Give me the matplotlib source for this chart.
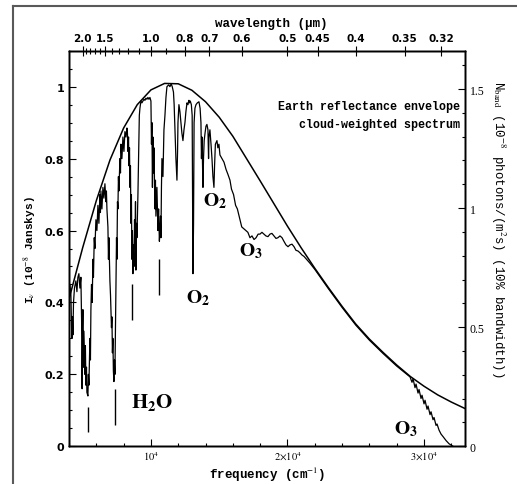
import matplotlib
matplotlib.use('Agg')
import matplotlib.pyplot as plt
from matplotlib.lines import Line2D
from matplotlib.ticker import MultipleLocator, FixedLocator

plt.rcParams['mathtext.fontset'] = 'stix'

# Earth reflectance envelope (frequency in cm^-1, I_nu in 1e-8 Jy)
env_nu = [4000, 5000, 6000, 7000, 8000, 9000, 10000, 11000, 12000, 13000,
          14000, 15000, 16000, 17000, 18000, 19000, 20000, 21000, 22000, 23000,
          24000, 25000, 26000, 27000, 28000, 29000, 30000, 31000, 32000, 33000]
env_val = [0.409, 0.552, 0.683, 0.796, 0.885, 0.950, 0.991, 1.009, 1.008, 0.990,
           0.958, 0.915, 0.862, 0.800, 0.738, 0.675, 0.612, 0.552, 0.495, 0.441,
           0.389, 0.340, 0.298, 0.261, 0.226, 0.194, 0.167, 0.143, 0.123, 0.105]

# cloud-weighted spectrum
spec_nu = [4000, 4070, 4140, 4180, 4212, 4250, 4286, 4330, 4400, 4505,
           4580, 4650, 4725, 4798, 4870, 4945, 4960, 4990, 5018, 5060,
           5092, 5165, 5200, 5238, 5280, 5311, 5385, 5420, 5458, 5531,
           5570, 5604, 5650, 5700, 5751, 5790, 5850, 5897, 5971, 6044,
           6117, 6190, 6264, 6300, 6337, 6410, 6484, 6557, 6630, 6703,
           6740, 6777, 6850, 6890, 6923, 6996, 7040, 7070, 7110, 7143,
           7180, 7216, 7250, 7290, 7330, 7363, 7400, 7436, 7480, 7509,
           7550, 7582, 7620, 7656, 7729, 7770, 7802, 7875, 7949, 8022,
           8095, 8168, 8242, 8280, 8315, 8360, 8388, 8430, 8462, 8500,
           8535, 8570, 8608, 8640, 8681, 8720, 8755, 8800, 8828, 8870,
           8901, 8940, 8974, 9048, 9100, 9150, 9194, 9267, 9341, 9414,
           9487, 9560, 9634, 9707, 9780, 9853, 9927, 10000, 10040, 10073,
           10110, 10146, 10190, 10220, 10293, 10330, 10366, 10440, 10512, 10560,
           10620, 10659, 10700, 10733, 10770, 10806, 10880, 10953, 11026, 11100,
           11172, 11300, 11392, 11480, 11560, 11650, 11700, 11758, 11830, 11905,
           11950, 11980, 12050, 12125, 12200, 12270, 12344, 12420, 12491, 12560,
           12640, 12711, 12780, 12830, 12880, 12960, 13020, 13077, 13120, 13160,
           13223, 13300, 13400, 13516, 13600, 13663, 13700, 13740, 13810, 13850,
           13900, 13960, 14030, 14100, 14176, 14220, 14250, 14320, 14400, 14470,
           14540, 14615, 14660, 14720, 14835, 14900, 14980, 15055, 15200, 15350,
           15500, 15650, 15788, 15900, 16050, 16200, 16330, 16520, 16650, 16800,
           16960, 17100, 17253, 17400, 17550, 17700, 17850, 17985, 18130, 18280,
           18420, 18570, 18718, 18860, 19010, 19160, 19300, 19451, 19600, 19740,
           19890, 20040, 20183, 20330, 20480, 20620, 20770, 20916, 21060, 21210,
           21350, 21500, 21648, 22000, 23000, 24000, 25000, 26000, 27000, 28000,
           28974, 29120, 29194, 29340, 29414, 29560, 29634, 29780, 29853, 30000,
           30073, 30220, 30293, 30440, 30513, 30659, 30733, 30879, 30952, 31099,
           31245, 31392, 31612, 31832, 32125]
spec_val = [0.41, 0.45, 0.42, 0.34, 0.30, 0.36, 0.31, 0.40, 0.44, 0.46,
            0.43, 0.47, 0.48, 0.44, 0.47, 0.30, 0.16, 0.33, 0.38, 0.22,
            0.32, 0.20, 0.28, 0.17, 0.22, 0.15, 0.14, 0.20, 0.17, 0.30,
            0.24, 0.38, 0.45, 0.40, 0.52, 0.47, 0.58, 0.55, 0.63, 0.60,
            0.67, 0.62, 0.70, 0.65, 0.71, 0.66, 0.72, 0.69, 0.73, 0.68,
            0.71, 0.66, 0.61, 0.52, 0.58, 0.46, 0.42, 0.38, 0.33, 0.36,
            0.26, 0.30, 0.21, 0.18, 0.24, 0.20, 0.32, 0.45, 0.58, 0.52,
            0.68, 0.66, 0.75, 0.71, 0.80, 0.76, 0.84, 0.80, 0.86, 0.82,
            0.875, 0.86, 0.885, 0.87, 0.82, 0.86, 0.78, 0.83, 0.72, 0.78,
            0.62, 0.70, 0.52, 0.60, 0.48, 0.56, 0.50, 0.63, 0.55, 0.68,
            0.49, 0.62, 0.58, 0.70, 0.82, 0.92, 0.94, 0.96, 0.955, 0.96,
            0.965, 0.962, 0.968, 0.965, 0.97, 0.965, 0.97, 0.96, 0.84, 0.90,
            0.72, 0.86, 0.76, 0.83, 0.66, 0.74, 0.64, 0.72, 0.60, 0.66,
            0.57, 0.60, 0.64, 0.58, 0.72, 0.80, 0.75, 0.88, 0.92, 0.97,
            1.0, 1.005, 1.0, 1.008, 1.0, 0.985, 0.95, 0.88, 0.80, 0.74,
            0.82, 0.90, 0.95, 0.93, 0.90, 0.87, 0.85, 0.88, 0.90, 0.93,
            0.955, 0.95, 0.962, 0.955, 0.96, 0.95, 0.92, 0.48, 0.62, 0.90,
            0.94, 0.95, 0.955, 0.958, 0.94, 0.90, 0.80, 0.86, 0.72, 0.80,
            0.85, 0.87, 0.89, 0.895, 0.88, 0.80, 0.86, 0.88, 0.84, 0.80,
            0.75, 0.72, 0.78, 0.84, 0.85, 0.83, 0.84, 0.81, 0.80, 0.79,
            0.77, 0.755, 0.74, 0.715, 0.70, 0.67, 0.66, 0.63, 0.61, 0.605,
            0.60, 0.595, 0.58, 0.585, 0.575, 0.58, 0.59, 0.59, 0.595, 0.59,
            0.585, 0.583, 0.59, 0.592, 0.585, 0.578, 0.58, 0.585, 0.58, 0.57,
            0.56, 0.555, 0.56, 0.562, 0.555, 0.545, 0.543, 0.538, 0.532, 0.528,
            0.522, 0.516, 0.509, 0.492, 0.438, 0.386, 0.337, 0.295, 0.258, 0.223,
            0.193, 0.178, 0.188, 0.163, 0.173, 0.148, 0.158, 0.133, 0.142, 0.118,
            0.128, 0.103, 0.112, 0.088, 0.096, 0.074, 0.080, 0.058, 0.062, 0.045,
            0.034, 0.027, 0.016, 0.007, 0.0]

# broken tips of the deepest absorption lines
dash_nu = [5385, 7363, 8640, 10620]
dash_top = [0.11, 0.16, 0.45, 0.52]
dash_bot = [0.04, 0.06, 0.35, 0.42]

wl_major = [2.0, 1.5, 1.0, 0.8, 0.7, 0.6, 0.5, 0.45, 0.4, 0.35, 0.32]
wl_labels = ['2.0', '1.5', '1.0', '0.8', '0.7', '0.6', '0.5', '0.45', '0.4', '0.35', '0.32']
wl_minor = [1.9, 1.8, 1.7, 1.6, 1.4, 1.3, 1.2, 1.1, 0.9]

freq_ticks = [10000, 20000, 30000]
freq_labels = [r'$10^4$', r'$2{\times}10^4$', r'$3{\times}10^4$']

left_ticks = [0, 0.2, 0.4, 0.6, 0.8, 1.0]
left_labels = ['0', '0.2', '0.4', '0.6', '0.8', '1']
right_ticks = [0, 0.5, 1.0, 1.5]
right_labels = ['0', '0.5', '1', '1.5']

mono = 'Liberation Mono'

fig = plt.figure(figsize=(5.17, 4.85), dpi=100)
ax = fig.add_axes([69 / 517, 1 - 447.3 / 485, 396 / 517, 395.6 / 485])

ax.plot(env_nu, env_val, color='black', lw=1.1)
ax.plot(spec_nu, spec_val, color='black', lw=0.9)
ax.vlines(dash_nu, dash_bot, dash_top, color='black', lw=1.0)

ax.set_xlim(4000, 33000)
ax.set_ylim(0, 1.1)
ax.xaxis.set_major_locator(FixedLocator(freq_ticks))
ax.set_xticklabels(freq_labels)
ax.xaxis.set_minor_locator(MultipleLocator(2000))
ax.yaxis.set_major_locator(FixedLocator(left_ticks))
ax.set_yticklabels(left_labels)
ax.yaxis.set_minor_locator(MultipleLocator(0.05))
ax.tick_params(which='both', direction='in', top=False, right=False, width=0.8)
ax.tick_params(which='major', length=5, labelsize=8)
ax.tick_params(which='minor', length=2.5)
ax.tick_params(axis='x', which='major', labelsize=7.5, pad=2)
for lab in ax.get_yticklabels():
    lab.set_fontweight('bold')
    lab.set_family('DejaVu Sans')

# right axis: N_band
ax2 = ax.twinx()
ax2.set_ylim(0, 1.661)
ax2.yaxis.set_major_locator(FixedLocator(right_ticks))
ax2.set_yticklabels(right_labels)
ax2.yaxis.set_minor_locator(MultipleLocator(0.1))
ax2.tick_params(which='both', direction='in', width=0.8)
ax2.tick_params(which='major', length=5, labelsize=8.5)
ax2.tick_params(which='minor', length=2.5)
for lab in ax2.get_yticklabels():
    lab.set_family('Liberation Serif')

# top axis: wavelength
ax3 = ax.twiny()
ax3.set_xlim(4000, 33000)
ax3.xaxis.set_major_locator(FixedLocator([1e4 / w for w in wl_major]))
ax3.set_xticklabels(wl_labels)
ax3.xaxis.set_minor_locator(FixedLocator([1e4 / w for w in wl_minor]))
ax3.tick_params(which='both', direction='inout', width=0.8)
ax3.tick_params(which='major', length=7, labelsize=7.5, pad=2)
ax3.tick_params(which='minor', length=5)
for lab in ax3.get_xticklabels():
    lab.set_fontweight('bold')
    lab.set_family('DejaVu Sans')

for a in (ax, ax2, ax3):
    for s in a.spines.values():
        s.set_linewidth(1.0)

# labels
fig.text(271 / 517, 1 - 24 / 485, 'wavelength (μm)', ha='center', va='center',
         family=mono, fontweight='bold', fontsize=9)
fig.text(267 / 517, 1 - 475 / 485, r'frequency (cm$^{-1}$)', ha='center', va='center',
         family=mono, fontweight='bold', fontsize=9)
fig.text(30 / 517, 1 - 250 / 485, r'I$_\nu$ (10$^{-8}$ Janskys)', ha='center', va='center',
         rotation=90, family=mono, fontweight='bold', fontsize=8)
fig.text(498 / 517, 1 - 229 / 485,
         r'N$_{\rm band}$ (10$^{-8}$ photons/(m$^2$s) (10% bandwidth))',
         ha='center', va='center', rotation=270, family=mono, fontsize=9)

ax.text(0.987, 0.86, 'Earth reflectance envelope', transform=ax.transAxes,
        ha='right', va='center', family=mono, fontweight='bold', fontsize=8.4)
ax.text(0.987, 0.815, 'cloud-weighted spectrum', transform=ax.transAxes,
        ha='right', va='center', family=mono, fontweight='bold', fontsize=8.4)

# molecule labels
ax.text(10100, 0.125, r'$\mathbf{H_2O}$', ha='center', va='center', fontsize=15)
ax.text(14730, 0.685, r'$\mathbf{O_2}$', ha='center', va='center', fontsize=14)
ax.text(13450, 0.415, r'$\mathbf{O_2}$', ha='center', va='center', fontsize=14)
ax.text(17300, 0.545, r'$\mathbf{O_3}$', ha='center', va='center', fontsize=14)
ax.text(28700, 0.05, r'$\mathbf{O_3}$', ha='center', va='center', fontsize=14)

# outer frame of the scanned page
fig.add_artist(Line2D([13 / 517, 13 / 517], [0, 1 - 7 / 485], color='0.35', lw=1.5,
                      transform=fig.transFigure))
fig.add_artist(Line2D([13 / 517, 1], [1 - 7 / 485, 1 - 7 / 485], color='0.35', lw=1.5,
                      transform=fig.transFigure))

fig.savefig('out.png', dpi=100)
